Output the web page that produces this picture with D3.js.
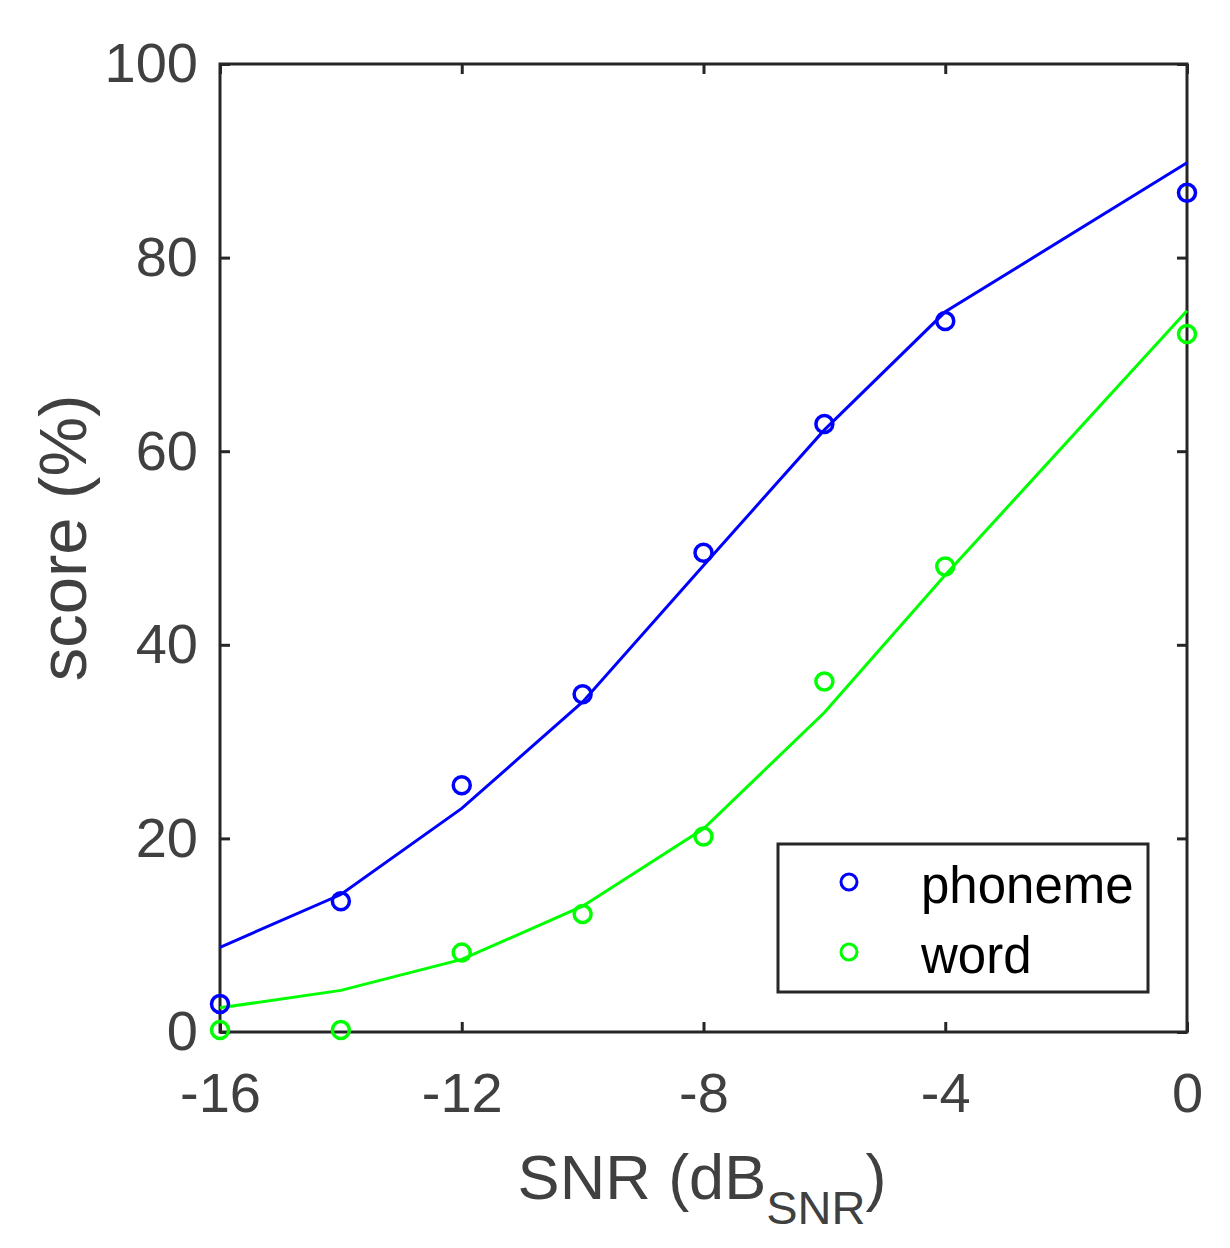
<!DOCTYPE html>
<html><head><meta charset="utf-8">
<script src="https://cdn.jsdelivr.net/npm/d3@7"></script>
<style>body{margin:0;background:#fff}svg{display:block}</style>
</head><body>
<script>
const snr = [-16, -14, -12, -10, -8, -6, -4, 0];
const phonemeScores = [2.9, 13.5, 25.5, 34.9, 49.5, 62.8, 73.45, 86.7];
const wordScores = [0.2, 0.2, 8.2, 12.2, 20.2, 36.2, 48.1, 72.1];
const phonemeFit = [8.75, 14.2, 23.1, 34.1, 48.2, 62.2, 74.4, 89.8];
const wordFit = [2.5, 4.3, 7.5, 13.0, 21.0, 33.0, 47.2, 74.5];
const xTicks = [-16, -12, -8, -4, 0];
const yTicks = [0, 20, 40, 60, 80, 100];
const seriesNames = ["phoneme", "word"];
const seriesColors = ["#0000ff", "#00ff00"];

const W = 1230, H = 1248;
const m = {left: 220, right: 1187, top: 64, bottom: 1032};
const svg = d3.select("body").append("svg").attr("width", W).attr("height", H);
const x = d3.scaleLinear().domain([-16, 0]).range([m.left, m.right]);
const y = d3.scaleLinear().domain([0, 100]).range([m.bottom, m.top]);
const axisColor = "#262626", textColor = "#404040";
const font = "Arial, 'Liberation Sans', sans-serif";
const fmt = d => String(d);

const tickLen = 10;
function styleAxis(g) {
  g.select(".domain").remove();
  g.selectAll(".tick line").attr("stroke", axisColor).attr("stroke-width", 3);
  g.selectAll(".tick text").attr("fill", textColor).attr("font-family", font).attr("font-size", 56);
}
svg.append("g").attr("transform", `translate(0,${m.bottom})`)
  .call(d3.axisBottom(x).tickValues(xTicks).tickFormat(fmt).tickSizeInner(-tickLen).tickSizeOuter(0).tickPadding(40))
  .call(styleAxis);
svg.append("g").attr("transform", `translate(0,${m.top})`)
  .call(d3.axisTop(x).tickValues(xTicks).tickFormat("").tickSizeInner(-tickLen).tickSizeOuter(0))
  .call(styleAxis);
svg.append("g").attr("transform", `translate(${m.left},0)`)
  .call(d3.axisLeft(y).tickValues(yTicks).tickFormat(fmt).tickSizeInner(-tickLen).tickSizeOuter(0).tickPadding(22))
  .call(styleAxis);
svg.append("g").attr("transform", `translate(${m.right},0)`)
  .call(d3.axisRight(y).tickValues(yTicks).tickFormat("").tickSizeInner(-tickLen).tickSizeOuter(0))
  .call(styleAxis);
svg.append("rect").attr("x", m.left).attr("y", m.top).attr("width", m.right - m.left).attr("height", m.bottom - m.top)
  .attr("fill", "none").attr("stroke", axisColor).attr("stroke-width", 3);

// fit lines
const line = d3.line().x(d => x(d[0])).y(d => y(d[1]));
[phonemeFit, wordFit].forEach((fit, i) => {
  svg.append("path").datum(snr.map((s, j) => [s, fit[j]])).attr("d", line)
    .attr("fill", "none").attr("stroke", seriesColors[i]).attr("stroke-width", 3);
});
// points
[phonemeScores, wordScores].forEach((sc, i) => {
  svg.append("g").selectAll("circle").data(snr.map((s, j) => [s, sc[j]])).join("circle")
    .attr("cx", d => x(d[0])).attr("cy", d => y(d[1])).attr("r", 8.5)
    .attr("fill", "none").attr("stroke", seriesColors[i]).attr("stroke-width", 3.5);
});

// axis labels
const xl = svg.append("text").attr("x", 702).attr("y", 1199).attr("text-anchor", "middle")
  .attr("fill", textColor).attr("font-family", font).attr("font-size", 63);
xl.append("tspan").text("SNR (dB");
xl.append("tspan").attr("font-size", 47).attr("dy", 25).text("SNR");
xl.append("tspan").attr("dy", -25).text(")");
svg.append("text").attr("transform", "translate(86,538) rotate(-90)").attr("text-anchor", "middle")
  .attr("fill", textColor).attr("font-family", font).attr("font-size", 67).text("score (%)");

// legend
const lg = svg.append("g");
lg.append("rect").attr("x", 778).attr("y", 844).attr("width", 370).attr("height", 148)
  .attr("fill", "#fff").attr("stroke", axisColor).attr("stroke-width", 3);
seriesNames.forEach((n, i) => {
  const cy = 882 + i * 70;
  lg.append("circle").attr("cx", 849).attr("cy", cy).attr("r", 8).attr("fill", "none")
    .attr("stroke", seriesColors[i]).attr("stroke-width", 3);
  lg.append("text").attr("x", 921).attr("y", cy + 21).attr("fill", "#000")
    .attr("font-family", font).attr("font-size", 51).text(n);
});
</script>
</body></html>
